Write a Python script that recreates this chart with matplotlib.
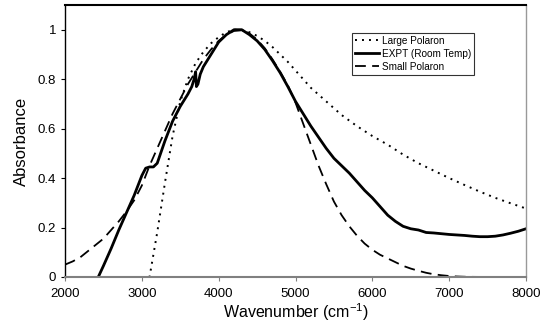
import numpy as np
import matplotlib
matplotlib.use("Agg")
import matplotlib.pyplot as plt

plt.rcParams['font.family'] = ['Liberation Sans', 'DejaVu Sans']

# Large polaron model (dotted)
wn_large = [2000, 3100, 3200, 3300, 3400, 3500, 3600, 3700, 3800, 3900,
            4000, 4100, 4200, 4300, 4400, 4500, 4600, 4700, 4800, 4900,
            5000, 5200, 5400, 5600, 5800, 6000, 6200, 6400, 6600, 6800,
            7000, 7200, 7400, 7600, 7800, 8000]
abs_large = [0.0, 0.0, 0.18, 0.38, 0.57, 0.71, 0.80, 0.865, 0.91, 0.945,
             0.97, 0.99, 1.0, 0.998, 0.99, 0.975, 0.955, 0.93, 0.90, 0.87,
             0.835, 0.765, 0.71, 0.655, 0.61, 0.57, 0.535, 0.495, 0.46, 0.43,
             0.40, 0.372, 0.345, 0.32, 0.298, 0.277]

# Measured spectrum at room temperature (solid)
wn_expt = [2433, 2500, 2600, 2700, 2800, 2900, 3000, 3050, 3100, 3150,
           3200, 3300, 3400, 3500, 3600, 3650, 3680, 3700, 3710, 3730,
           3760, 3800, 3900, 4000, 4100, 4200, 4300, 4400, 4500, 4600,
           4700, 4800, 4900, 5000, 5100, 5200, 5300, 5400, 5500, 5600,
           5700, 5800, 5900, 6000, 6100, 6200, 6300, 6400, 6500, 6600,
           6700, 6800, 6900, 7000, 7100, 7200, 7300, 7400, 7500, 7600,
           7700, 7800, 7900, 8000]
abs_expt = [0.0, 0.045, 0.115, 0.19, 0.26, 0.33, 0.41, 0.44, 0.445, 0.445,
            0.46, 0.55, 0.63, 0.69, 0.74, 0.77, 0.80, 0.83, 0.77, 0.78,
            0.82, 0.85, 0.90, 0.95, 0.98, 1.0, 1.0, 0.98, 0.955, 0.92,
            0.875, 0.826, 0.77, 0.71, 0.66, 0.61, 0.565, 0.52, 0.48, 0.45,
            0.42, 0.385, 0.35, 0.32, 0.285, 0.25, 0.225, 0.205, 0.195, 0.19,
            0.18, 0.178, 0.175, 0.172, 0.17, 0.168, 0.165, 0.163, 0.163, 0.165,
            0.17, 0.177, 0.185, 0.195]

# Small polaron model (dashed)
wn_small = [2000, 2100, 2200, 2300, 2400, 2500, 2600, 2700, 2800, 2900,
            3000, 3100, 3200, 3300, 3400, 3500, 3600, 3700, 3800, 3900,
            4000, 4100, 4200, 4300, 4400, 4500, 4600, 4700, 4800, 4900,
            5000, 5100, 5200, 5300, 5400, 5500, 5600, 5700, 5800, 5900,
            6000, 6100, 6200, 6300, 6400, 6500, 6600, 6700, 6800, 6900,
            7000, 7100, 7200, 7300, 7500, 8000]
abs_small = [0.05, 0.063, 0.08, 0.105, 0.13, 0.155, 0.19, 0.225, 0.265, 0.31,
             0.37, 0.45, 0.52, 0.59, 0.66, 0.72, 0.78, 0.83, 0.88, 0.92,
             0.955, 0.98, 0.995, 0.998, 0.985, 0.96, 0.925, 0.88, 0.83, 0.775,
             0.705, 0.62, 0.535, 0.45, 0.375, 0.305, 0.25, 0.205, 0.167, 0.135,
             0.11, 0.09, 0.075, 0.06, 0.045, 0.034, 0.025, 0.017, 0.011, 0.007,
             0.004, 0.002, 0.001, 0.0005, 0.0, 0.0]

fig = plt.figure(figsize=(5.4, 3.32), dpi=100)
ax = fig.add_axes([0.1204, 0.1657, 0.8537, 0.8193])

ax.plot(wn_large, abs_large, color='black', lw=1.4, linestyle=(0, (1, 2.6)),
        label='Large Polaron')
ax.plot(wn_expt, abs_expt, color='black', lw=2.0, label='EXPT (Room Temp)')
ax.plot(wn_small, abs_small, color='black', lw=1.3, linestyle=(0, (6, 3.5)),
        label='Small Polaron')

ax.set_xlim(2000, 8000)
ax.set_ylim(0, 1.1)
ax.set_xticks(np.arange(2000, 8001, 1000))
ax.set_yticks([0, 0.2, 0.4, 0.6, 0.8, 1.0])
ax.set_yticklabels(['0', '0.2', '0.4', '0.6', '0.8', '1'])
ax.tick_params(axis='both', labelsize=9.5, length=3, direction='out')
ax.tick_params(axis='x', color='#808080', pad=5)
ax.set_xlabel('Wavenumber (cm$^{\\mathregular{-1}}$)', fontsize=11.5, labelpad=1)
ax.set_ylabel('Absorbance', fontsize=12, labelpad=6)

ax.spines['top'].set_linewidth(1.5)
ax.spines['left'].set_linewidth(1.0)
ax.spines['bottom'].set_color('#808080')
ax.spines['bottom'].set_linewidth(1.5)
ax.spines['right'].set_color('#999999')
ax.spines['right'].set_linewidth(1.0)

leg = ax.legend(loc='upper left', bbox_to_anchor=(0.622, 0.897), fontsize=7.2,
                frameon=True, fancybox=False, handlelength=2.4, handletextpad=0.3,
                borderpad=0.3, labelspacing=0.3, borderaxespad=0)
leg.get_frame().set_edgecolor('black')
leg.get_frame().set_linewidth(0.8)

fig.savefig('out.png', dpi=100)
